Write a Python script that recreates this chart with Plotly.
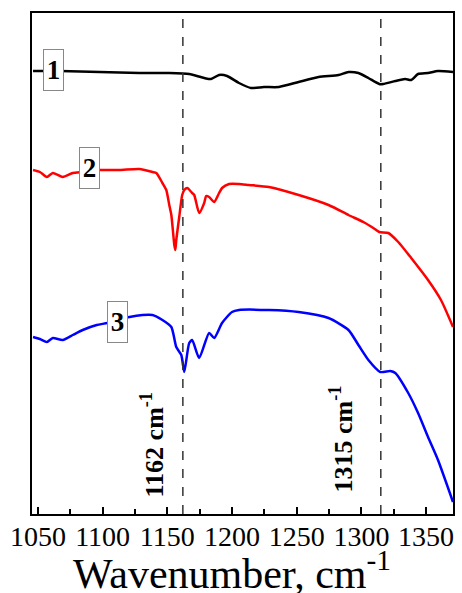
import plotly.graph_objects as go

# Spectrum 1 (black)
x1 = [1046.2, 1066.9, 1097.7, 1128.5, 1151.5, 1166.9, 1178.5, 1183.8, 1190.0, 1196.2,
      1205.4, 1214.6, 1224.6, 1236.2, 1251.5, 1266.9, 1282.3, 1290.0, 1297.7, 1305.4,
      1313.8, 1316.9, 1326.2, 1333.8, 1338.5, 1343.8, 1351.5, 1359.2, 1370.8]
y1 = [443, 443, 442, 441, 441, 440, 436, 435, 439, 438,
      431, 426, 427, 427, 432, 437, 439, 442, 441, 436,
      430, 430, 433, 435, 434, 440, 441, 443, 442]

# Spectrum 2 (red)
x2 = [1046.2, 1051.5, 1056.9, 1061.5, 1069.2, 1076.9, 1084.6, 1097.7, 1113.1, 1128.5,
      1138.5, 1141.5, 1146.2, 1149.2, 1151.5, 1153.1, 1155.4, 1156.2, 1156.9, 1159.2,
      1161.5, 1163.1, 1165.4, 1169.2, 1170.8, 1174.6, 1178.5, 1180.0, 1182.3, 1186.2,
      1190.0, 1192.3, 1197.7, 1205.4, 1213.1, 1228.5, 1251.5, 1274.6, 1290.0, 1301.5,
      1309.2, 1313.8, 1320.8, 1328.5, 1338.5, 1351.5, 1361.5, 1370.8]
y2 = [344, 342, 337, 341, 337, 341, 342, 344, 344, 345,
      342, 341, 331, 324, 309, 299, 269, 264, 274, 297,
      319, 324, 326, 321, 319, 301, 311, 318, 317, 312,
      321, 326, 330, 330, 329, 327, 319, 309, 299, 292,
      286, 282, 281, 272, 256, 234, 214, 187]

# Spectrum 3 (blue)
x3 = [1046.2, 1051.5, 1056.9, 1061.5, 1069.2, 1076.9, 1084.6, 1095.4, 1103.8, 1120.8,
      1130.8, 1138.5, 1146.2, 1153.1, 1156.9, 1160.8, 1163.1, 1166.9, 1169.2, 1174.6,
      1182.3, 1186.2, 1192.3, 1200.0, 1205.4, 1228.5, 1251.5, 1274.6, 1290.0, 1297.7,
      1305.4, 1314.6, 1322.3, 1326.2, 1336.2, 1343.8, 1351.5, 1359.2, 1370.8]
y3 = [177, 175, 172, 176, 174, 179, 184, 189, 191, 197,
      199, 199, 194, 187, 167, 159, 142, 171, 174, 156,
      181, 176, 191, 202, 204, 204, 202, 196, 184, 169,
      154, 142, 143, 141, 121, 101, 77, 54, 12]

tick_vals = [1050, 1100, 1150, 1200, 1250, 1300, 1350]
tick_text = ["1050", "1100", "1150", "1200", "1250", "1300", "1350"]
marker_lines = [1162, 1315]
marker_labels = ["1162 cm<sup>-1</sup>", "1315 cm<sup>-1</sup>"]
curve_labels = ["1", "2", "3"]
x_title = "Wavenumber, cm<sup>-1</sup>"

FONT = "Liberation Serif"
XR = [1045.4, 1370.8]

fig = go.Figure()
for xs, ys, col in [(x1, y1, "#000000"), (x2, y2, "#ff0000"), (x3, y3, "#0000ff")]:
    fig.add_trace(go.Scatter(x=xs, y=ys, mode="lines",
                             line=dict(color=col, width=2.5, shape="spline", smoothing=0.6),
                             showlegend=False, hoverinfo="skip"))

for xv in marker_lines:
    fig.add_shape(type="line", x0=xv, x1=xv, y0=0, y1=1, xref="x", yref="paper",
                  line=dict(color="#333333", width=1.5, dash="dash"))

# curve labels
label_pos = [(1062.3, 444), (1089.6, 346.5), (1111.2, 192)]
for txt, (lx, ly) in zip(curve_labels, label_pos):
    fig.add_annotation(x=lx, y=ly, text="<b>" + txt + "</b>", showarrow=False,
                       font=dict(family=FONT, size=27, color="black"),
                       bgcolor="white", bordercolor="#888888", borderwidth=1,
                       borderpad=2, width=15, height=36)

# rotated marker labels
rot_pos = [(1138.5, 69), (1284.6, 75)]
for txt, (lx, ly) in zip(marker_labels, rot_pos):
    fig.add_annotation(x=lx, y=ly, text="<b>" + txt + "</b>", showarrow=False,
                       textangle=-90, font=dict(family=FONT, size=26, color="black"))

# x-axis title
fig.add_annotation(x=0.475, y=-0.112, xref="paper", yref="paper", text=x_title,
                   showarrow=False, xanchor="center", yanchor="middle",
                   font=dict(family=FONT, size=42, color="black"))

fig.update_layout(
    width=462, height=593,
    margin=dict(l=32, r=7, t=13, b=79),
    plot_bgcolor="white", paper_bgcolor="white",
    font=dict(family=FONT, color="black"),
    xaxis=dict(range=XR, tickvals=tick_vals, ticktext=tick_text,
               ticks="inside", ticklen=7, tickwidth=1.5, tickcolor="black",
               minor=dict(dtick=25, tick0=1050, ticks="inside", ticklen=5, tickwidth=1.5, tickcolor="black"),
               showline=True, linewidth=2, linecolor="black", mirror=True,
               showgrid=False, zeroline=False, ticklabelstandoff=-4,
               tickfont=dict(family=FONT, size=28, color="black")),
    yaxis=dict(range=[0, 501], showticklabels=False, ticks="",
               showline=True, linewidth=2, linecolor="black", mirror=True,
               showgrid=False, zeroline=False),
)

fig.write_html("out.html", config={"displayModeBar": False},
               post_script="document.body.style.margin='0';document.body.style.overflow='hidden';")
